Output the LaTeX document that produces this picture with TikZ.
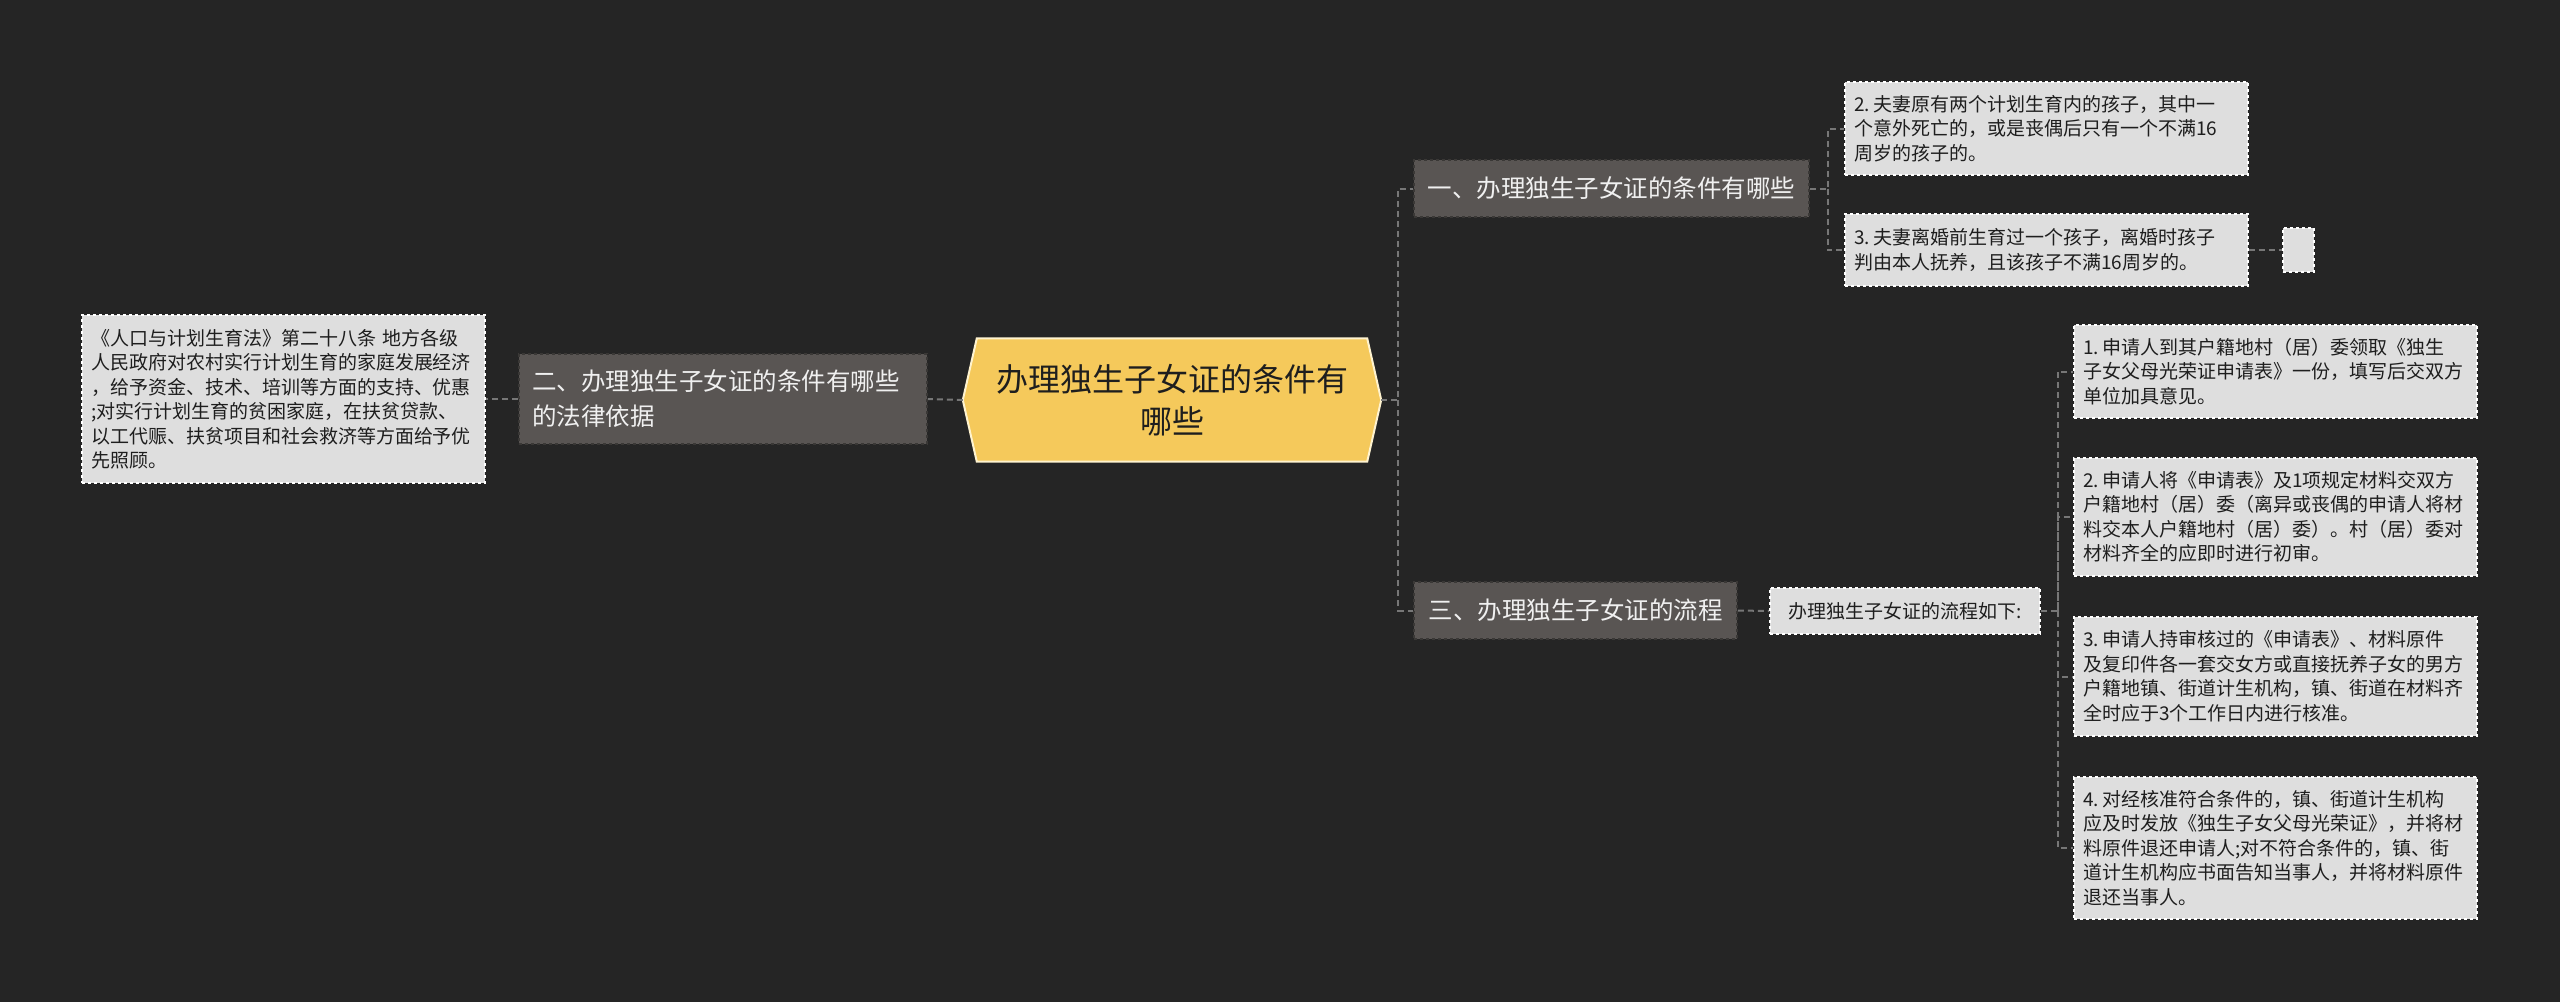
\documentclass[tikz,border=0pt]{standalone}
\usepackage{fontspec}
\setmainfont{Noto Sans CJK SC}
\usetikzlibrary{backgrounds}
\definecolor{bgc}{HTML}{252525}
\definecolor{hexfill}{HTML}{F5C95B}
\definecolor{hexline}{HTML}{FFF3CF}
\definecolor{lvfill}{HTML}{595553}
\definecolor{lvline}{HTML}{3A3836}
\definecolor{lightfill}{HTML}{DEDEDE}
\definecolor{darktext}{HTML}{1E1E1E}
\definecolor{linec}{HTML}{777777}
\tikzset{
  lvbox/.style={rectangle, fill=lvfill, draw=lvline, dashed, line width=1.5pt,
    text=white!94!black, font=\fontsize{24.5pt}{35pt}\selectfont, inner xsep=13pt, inner ysep=0pt},
  litebox/.style={rectangle, fill=lightfill, draw=white, dashed, line width=1.5pt,
    text=darktext, font=\fontsize{19pt}{24.5pt}\selectfont, inner xsep=9pt, inner ysep=0pt,
    minimum width=403pt, text width=385pt, align=left},
  conn/.style={draw=linec, line width=2pt, dash pattern=on 6pt off 4pt}
}
\begin{document}
\begin{tikzpicture}[x=1pt,y=-1pt]
\useasboundingbox (0,0) rectangle (2560,1002);

% central node
\node[minimum width=418pt, minimum height=123pt, inner sep=0pt, align=center,
  text=darktext, font=\fontsize{32pt}{42pt}\selectfont] (c) at (1172,400)
  {办理独生子女证的条件有\\哪些};
\begin{scope}[on background layer]
\fill[bgc] (0,0) rectangle (2560,1002);
\draw[fill=hexfill, draw=hexline, line width=2pt]
  (c.west) -- ([xshift=14pt]c.north west) -- ([xshift=-14pt]c.north east) -- (c.east)
  -- ([xshift=-14pt]c.south east) -- ([xshift=14pt]c.south west) -- cycle;
\end{scope}

% level 1
\node[lvbox, minimum width=408pt, minimum height=90pt, text width=382pt, align=left] (l2) at (723,399)
  {二、办理独生子女证的条件有哪些\\的法律依据};
\node[lvbox, minimum width=395pt, minimum height=57pt] (l1) at (1611.5,188.5)
  {一、办理独生子女证的条件有哪些};
\node[lvbox, minimum width=323pt, minimum height=57pt] (l3) at (1575.5,610.5)
  {三、办理独生子女证的流程};

% leaves
\node[litebox, minimum height=168pt] (law) at (283.5,399)
  {《人口与计划生育法》第二十八条 地方各级\\人民政府对农村实行计划生育的家庭发展经济\\，给予资金、技术、培训等方面的支持、优惠\\;对实行计划生育的贫困家庭，在扶贫贷款、\\以工代赈、扶贫项目和社会救济等方面给予优\\先照顾。};
\node[litebox, minimum height=93pt] (a2) at (2046.5,128.5)
  {2.\,夫妻原有两个计划生育内的孩子，其中一\\个意外死亡的，或是丧偶后只有一个不满16\\周岁的孩子的。};
\node[litebox, minimum height=72pt] (a3) at (2046.5,250)
  {3.\,夫妻离婚前生育过一个孩子，离婚时孩子\\判由本人抚养，且该孩子不满16周岁的。};
\node[rectangle, fill=lightfill, draw=white, dashed, line width=1.5pt,
  minimum width=31pt, minimum height=44pt, inner sep=0pt] (e) at (2298.5,250) {};
\node[rectangle, fill=lightfill, draw=white, dashed, line width=1.5pt, text=darktext,
  font=\fontsize{19pt}{24.5pt}\selectfont, minimum width=270pt, minimum height=46pt, inner sep=0pt]
  (flow) at (1905,611) {办理独生子女证的流程如下:};
\node[litebox, minimum height=93pt] (s1) at (2275.5,371.5)
  {1.\,申请人到其户籍地村（居）委领取《独生\\子女父母光荣证申请表》一份，填写后交双方\\单位加具意见。};
\node[litebox, minimum height=118pt] (s2) at (2275.5,517)
  {2.\,申请人将《申请表》及1项规定材料交双方\\户籍地村（居）委（离异或丧偶的申请人将材\\料交本人户籍地村（居）委）。村（居）委对\\材料齐全的应即时进行初审。};
\node[litebox, minimum height=119pt] (s3) at (2275.5,676.5)
  {3.\,申请人持审核过的《申请表》、材料原件\\及复印件各一套交女方或直接抚养子女的男方\\户籍地镇、街道计生机构，镇、街道在材料齐\\全时应于3个工作日内进行核准。};
\node[litebox, minimum height=142pt] (s4) at (2275.5,848)
  {4.\,对经核准符合条件的，镇、街道计生机构\\应及时发放《独生子女父母光荣证》，并将材\\料原件退还申请人;对不符合条件的，镇、街\\道计生机构应书面告知当事人，并将材料原件\\退还当事人。};

% connectors
\begin{scope}[on background layer]
\draw[conn] (c.west) -- (l2.east);
\draw[conn] (l2.west) -- (law.east);
\draw[conn] (c.east) -- ++(17,0) coordinate (sp1) |- (l1.west);
\draw[conn] (sp1) |- (l3.west);
\draw[conn] (l1.east) -- ++(18,0) coordinate (sp2) |- (a2.west);
\draw[conn] (sp2) |- (a3.west);
\draw[conn] (a3.east) -- (e.west);
\draw[conn] (l3.east) -- (flow.west);
\draw[conn] (flow.east) -- ++(17,0) coordinate (sp3) |- (s1.west);
\draw[conn] (sp3) |- (s2.west);
\draw[conn] (sp3) |- (s3.west);
\draw[conn] (sp3) |- (s4.west);
\end{scope}
\end{tikzpicture}
\end{document}
